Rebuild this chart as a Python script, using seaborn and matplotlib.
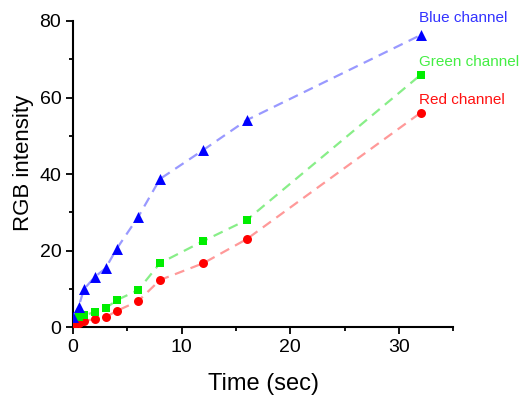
import numpy as np
import pandas as pd
import seaborn as sns
import matplotlib
matplotlib.use("Agg")
from matplotlib import pyplot as plt
from matplotlib.ticker import MultipleLocator

# data
time_sec = [0, 0.5, 1, 2, 3, 4, 6, 8, 12, 16, 32]
red = [0.3, 1.0, 1.6, 2.1, 2.6, 4.2, 6.8, 12.3, 16.7, 23.0, 56.0]
green = [2.0, 2.6, 3.1, 3.9, 4.9, 7.0, 9.7, 16.7, 22.5, 28.0, 65.9]
blue = [2.6, 5.2, 9.9, 13.1, 15.4, 20.4, 28.8, 38.7, 46.3, 54.1, 76.3]

channels = ["Red channel", "Green channel", "Blue channel"]
values = [red, green, blue]
markers = ["o", "s", "^"]
marker_sizes = [42, 32, 62]
point_colors = ["#ff0000", "#00ee00", "#0000ff"]
line_colors = ["#ff9999", "#88ee88", "#9999ff"]
text_colors = ["#ff1111", "#44ee44", "#3333ff"]
label_offsets = [57.5, 67.5, 79.0]

sns.set_style("ticks")
plt.rcParams['font.family'] = ['Liberation Sans', 'DejaVu Sans']

my_dpi = 100
fig = plt.figure(figsize=(522 / my_dpi, 396 / my_dpi), dpi=my_dpi)
ax = fig.add_axes([0.14, 0.174, 0.728, 0.773])

for name, vals, mk, ms, pc, lc, tc, ty in zip(channels, values, markers,
                                              marker_sizes, point_colors,
                                              line_colors, text_colors,
                                              label_offsets):
    df = pd.DataFrame({"t": time_sec, "v": vals})
    sns.lineplot(data=df, x="t", y="v", ax=ax, color=lc, linewidth=1.6,
                 linestyle=(0, (4.5, 3)), zorder=2)
    sns.scatterplot(data=df, x="t", y="v", ax=ax, color=pc, marker=mk,
                    s=ms, linewidth=0, zorder=3)
    ax.text(time_sec[-1] - 0.1, ty, name, color=tc, fontsize=11,
            ha="left", va="bottom", clip_on=False)

ax.set_xlim(0, 35)
ax.set_ylim(0, 80)
ax.xaxis.set_major_locator(MultipleLocator(10))
ax.xaxis.set_minor_locator(MultipleLocator(5))
ax.yaxis.set_major_locator(MultipleLocator(20))
ax.yaxis.set_minor_locator(MultipleLocator(10))
ax.tick_params(which="major", direction="out", length=5, width=1.3,
               labelsize=14, color="black", labelcolor="black")
ax.tick_params(which="minor", direction="out", length=3, width=1.3,
               color="black")
for s in ["left", "bottom"]:
    ax.spines[s].set_linewidth(1.5)
    ax.spines[s].set_color("black")
sns.despine(ax=ax)

ax.set_xlabel("Time (sec)", fontsize=17, color="black", labelpad=12)
ax.set_ylabel("RGB intensity", fontsize=16, color="black")
ax.yaxis.set_label_coords(-0.102, 0.535)

plt.savefig("out.png", dpi=my_dpi)
